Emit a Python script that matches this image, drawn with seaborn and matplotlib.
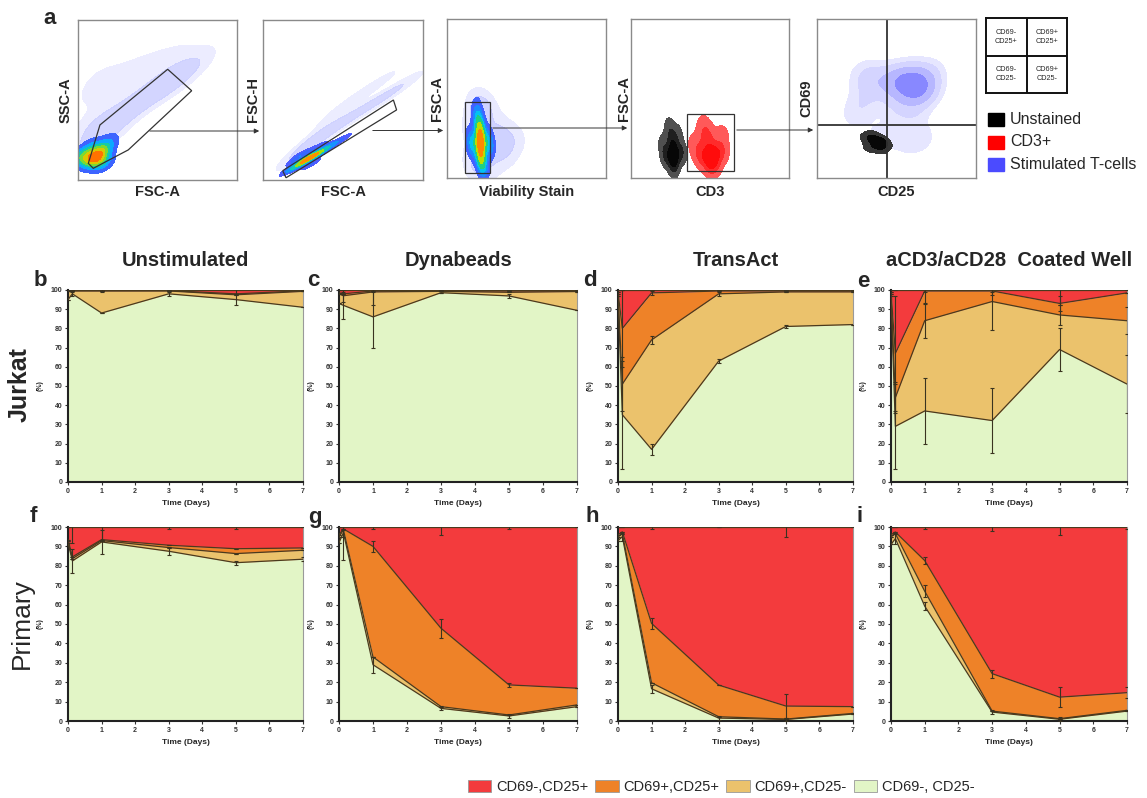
import numpy as np
import matplotlib
matplotlib.use("Agg")
import matplotlib.pyplot as plt
import seaborn as sns
from matplotlib.patches import Polygon, Rectangle, FancyArrowPatch, Patch
from matplotlib.colors import LinearSegmentedColormap
from matplotlib import font_manager

sns.set_theme(style="white")
plt.rcParams["font.family"] = ["Liberation Sans", "DejaVu Sans"]

W, H = 1147, 798

# ---------------------------------------------------------------- data
days = [0, 0.13, 1, 3, 5, 7]
population_labels = ["CD69-,CD25+", "CD69+,CD25+", "CD69+,CD25-", "CD69-, CD25-"]
conditions = ["Unstimulated", "Dynabeads", "TransAct", "aCD3/aCD28  Coated Well"]
panel_letters = ["b", "c", "d", "e", "f", "g", "h", "i"]
day_ticks = [0, 1, 2, 3, 4, 5, 6, 7]
pct_ticks = [0, 10, 20, 30, 40, 50, 60, 70, 80, 90, 100]

# population percentages: nn = CD69-CD25-, pn = CD69+CD25-, pp = CD69+CD25+, np = CD69-CD25+
jurkat_unstim_nn = [95, 98, 88, 98, 95, 91]
jurkat_unstim_pn = [4.3, 1.5, 11.5, 1.5, 2.5, 8.3]
jurkat_unstim_pp = [0.3, 0.2, 0.2, 0.2, 0.5, 0.3]
jurkat_unstim_np = [0.4, 0.3, 0.3, 0.3, 2.0, 0.4]

jurkat_dyna_nn = [93, 92, 86, 98.6, 96.9, 89.4]
jurkat_dyna_pn = [5, 5, 13, 0.7, 1.9, 9.8]
jurkat_dyna_pp = [0.5, 1, 0.5, 0.3, 0.7, 0.3]
jurkat_dyna_np = [1.5, 2, 0.5, 0.4, 0.5, 0.5]

jurkat_trans_nn = [97, 35, 17, 63, 81, 82]
jurkat_trans_pn = [1, 16, 57, 35, 18, 17]
jurkat_trans_pp = [1, 29, 24.5, 1.5, 0.5, 0.5]
jurkat_trans_np = [1, 20, 1.5, 0.5, 0.5, 0.5]

jurkat_well_nn = [97, 29, 37, 32, 69, 51]
jurkat_well_pn = [1, 15, 47, 62, 18, 33]
jurkat_well_pp = [1, 23, 15.5, 5.5, 6, 14.5]
jurkat_well_np = [1, 33, 0.5, 0.5, 7, 1.5]

primary_unstim_nn = [92, 82.5, 92.3, 87.5, 81.6, 83.4]
primary_unstim_pn = [1, 1.2, 0.7, 1.9, 4.7, 4.6]
primary_unstim_pp = [0.5, 0.9, 0.5, 1.2, 2.5, 1.2]
primary_unstim_np = [6.5, 15.4, 6.5, 9.4, 11.2, 10.8]

primary_dyna_nn = [92, 97, 29, 6.5, 2.6, 7.4]
primary_dyna_pn = [3, 1.5, 4, 0.9, 0.5, 0.9]
primary_dyna_pp = [1, 0.5, 57, 40.4, 15.5, 8.6]
primary_dyna_np = [4, 1, 10, 52.2, 81.4, 83.1]

primary_trans_nn = [93, 95, 16.6, 1.5, 0.8, 3.6]
primary_trans_pn = [2, 1.5, 3.1, 0.7, 0.2, 0.3]
primary_trans_pp = [1, 1, 30.6, 16.3, 6.7, 3.5]
primary_trans_np = [4, 2.5, 49.7, 81.5, 92.3, 92.6]

primary_well_nn = [91, 94, 59.2, 4.6, 0.9, 5.1]
primary_well_pn = [4, 2.5, 7.7, 0.5, 0.3, 0.4]
primary_well_pp = [1, 0.9, 15.8, 19.3, 11.1, 9.1]
primary_well_np = [4, 2.6, 17.3, 75.6, 87.7, 85.4]

# standard deviations (nn, pn, pp, np), drawn at the top of each stacked layer
jurkat_unstim_sd = [[0, 1, 0, 1, 3, 0], [0] * 6, [0] * 6, [0, 0, 1, 0, 2, 0]]
jurkat_dyna_sd = [[0, 7, 16, 0, 1, 0], [0, 3, 7, 0, 0, 0], [0] * 6, [0, 2, 1, 0, 0, 0]]
jurkat_trans_sd = [[0, 28, 3, 1, 1, 0], [0, 14, 2, 1, 0, 0], [0, 20, 1, 0, 0, 0], [0] * 6]
jurkat_well_sd = [[0, 22, 17, 17, 11, 15], [0, 8, 9, 15, 5, 7], [0, 30, 7, 2, 4, 0], [0, 0, 1, 1, 8, 0]]
primary_unstim_sd = [[0, 6, 6, 2, 1, 1], [0] * 6, [0] * 6, [0, 8, 7, 1, 1, 0]]
primary_dyna_sd = [[0, 14, 4, 1, 1, 0], [0] * 6, [0, 0, 3, 5, 1, 0], [0, 5, 1, 4, 1, 0]]
primary_trans_sd = [[0, 2, 2, 1, 1, 0], [0] * 6, [0, 0, 3, 0, 6, 0], [0, 0, 1, 0, 5, 0]]
primary_well_sd = [[0, 3, 2, 1, 1, 0], [0, 0, 3, 0, 0, 0], [0, 0, 2, 2, 5, 3], [0, 0, 1, 2, 4, 1]]

# flow cytometry density anchors (axis units 0-100)
scatter1_core_x = [12, 7, 17, 1, 21, 14, 9, 4, 18]
scatter1_core_y = [15, 11, 20, 14, 26, 9, 22, 17, 12]
scatter1_core_w = [5, 3, 3, 3, 1.5, 2, 2, 1.5, 1.5]
scatter1_sparse_x = [5, 10, 18, 25, 32, 40, 48, 55, 62, 70, 8, 12, 22, 35, 50, 65, 80, 4, 15]
scatter1_sparse_y = [30, 40, 30, 38, 45, 50, 55, 60, 62, 68, 55, 68, 60, 70, 75, 80, 78, 20, 22]

scatter2_core_x = [16, 22, 27, 32, 38, 45, 52, 24, 30, 20, 35]
scatter2_core_y = [6, 9, 13, 15, 19, 23, 27, 16, 10, 12, 21]
scatter2_core_w = [1, 2, 4, 3, 2, 1, 0.6, 1.2, 1.2, 1, 1]
scatter2_sparse_x = [22, 30, 40, 50, 60, 70, 80, 90, 45, 60, 75, 35, 25]
scatter2_sparse_y = [14, 22, 30, 36, 43, 48, 55, 60, 42, 53, 62, 30, 20]

scatter3_core_x = [21, 15, 27, 21, 21, 18, 24, 20]
scatter3_core_y = [22, 22, 22, 10, 33, 40, 6, 46]
scatter3_core_w = [4, 2, 2, 2, 2, 1, 1, 0.5]
scatter3_sparse_x = [15, 20, 26, 30, 35, 38, 20, 18, 28, 14, 45]
scatter3_sparse_y = [10, 40, 45, 22, 30, 15, 5, 48, 8, 30, 25]

scatter4_black_x = [27, 22, 32, 27, 26, 24, 30, 20]
scatter4_black_y = [15, 14, 16, 7, 25, 33, 28, 22]
scatter4_black_w = [4, 2, 2, 2, 2, 1, 1, 1]
scatter4_red_x = [51, 44, 57, 51, 48, 46, 58, 40]
scatter4_red_y = [14, 14, 17, 7, 26, 34, 28, 22]
scatter4_red_w = [4, 2, 2, 2, 2, 1, 1, 1]

scatter5_blue_x = [60, 66, 55, 45, 35, 30, 25, 50, 60, 65, 40, 30, 55, 70]
scatter5_blue_y = [58, 55, 62, 60, 62, 50, 40, 45, 40, 25, 25, 65, 20, 65]
scatter5_blue_w = [4, 3, 3, 2, 1, 1, 1, 1, 1, 1, 1, 1, 0.5, 1.5]
scatter5_black_x = [33, 37, 41, 35, 40, 31, 43]
scatter5_black_y = [19, 22, 24, 27, 18, 25, 21]

# ---------------------------------------------------------------- style
C_RED, C_ORANGE, C_LORANGE, C_GREEN = "#F33B3D", "#EE8228", "#EBC26C", "#E2F5C6"
LINE = "#4a3a1e"

narrow_names = {f.name for f in font_manager.fontManager.ttflist}
HAS_NARROW = "Liberation Sans Narrow" in narrow_names
LEG_FAMILY = ["Liberation Sans Narrow", "Liberation Sans"] if HAS_NARROW else ["Liberation Sans"]
LEG_SIZE = 12.5 if HAS_NARROW else 10.5

fig = plt.figure(figsize=(W / 100, H / 100), dpi=100)


def px_axes(x0, y0, x1, y1):
    return fig.add_axes([x0 / W, 1 - y1 / H, (x1 - x0) / W, (y1 - y0) / H])


def ftext(x, y, s, **kw):
    fig.text(x / W, 1 - y / H, s, **kw)


def farrow(x0, y0, x1, y1):
    fig.add_artist(FancyArrowPatch((x0 / W, 1 - y0 / H), (x1 / W, 1 - y1 / H),
                                   transform=fig.transFigure, arrowstyle="-|>",
                                   mutation_scale=7, lw=0.7, color="#333333"))


flow_cmap = LinearSegmentedColormap.from_list(
    "flow", ["#5a5aff", "#2a6bff", "#00c0ff", "#20d080", "#b8e000", "#ffb000", "#ff3000"])
haze_cmap = LinearSegmentedColormap.from_list("haze", ["#f2f2ff", "#d4d6ff", "#b0b4ff"])
black_cmap = LinearSegmentedColormap.from_list("blk", ["#6a6a6a", "#111111", "#000000"])
red_cmap = LinearSegmentedColormap.from_list("red", ["#ff7070", "#ff1a1a", "#ff0000"])
blue_cmap = LinearSegmentedColormap.from_list("blu", ["#ececff", "#b4b4ff", "#6e6eff"])


def blob(ax, xs, ys, cmap, bw, ws=None, levels=6, thresh=0.05, alpha=1.0):
    sns.kdeplot(x=np.asarray(xs, float), y=np.asarray(ys, float), weights=ws, fill=True,
                cmap=cmap, levels=levels, thresh=thresh, bw_adjust=bw, ax=ax,
                alpha=alpha, clip=((0, 100), (0, 100)))


def flow_axes(box, xlabel, ylabel, ylabel_x):
    ax = px_axes(*box)
    x0, y0, x1, y1 = box
    ftext((x0 + x1) / 2, 192, xlabel, ha="center", va="center", fontsize=10.5, fontweight="bold")
    ftext(ylabel_x, (y0 + y1) / 2, ylabel, ha="center", va="center", rotation=90,
          fontsize=10.5, fontweight="bold")
    return ax


def finish_flow(ax):
    ax.set_xlim(0, 100)
    ax.set_ylim(0, 100)
    ax.set_xticks([])
    ax.set_yticks([])
    ax.set_xlabel("")
    ax.set_ylabel("")
    for s in ax.spines.values():
        s.set_color("#8a8a8a")
        s.set_linewidth(1.0)


# ---------------------------------------------------------------- panel a
ftext(50, 19, "a", ha="center", va="center", fontsize=16, fontweight="bold")

ax1 = flow_axes((78, 20, 237, 180), "FSC-A", "SSC-A", 66)
blob(ax1, scatter1_sparse_x, scatter1_sparse_y, haze_cmap, 0.9, levels=3, thresh=0.2, alpha=0.75)
blob(ax1, scatter1_core_x, scatter1_core_y, flow_cmap, 1.1, ws=scatter1_core_w, levels=7, thresh=0.1)
ax1.add_patch(Polygon([(6.5, 10.4), (13.8, 34.4), (56.4, 69.2), (71.5, 55.8), (31.6, 18.8), (9.6, 7.3)],
                      closed=True, fill=False, ec="#333333", lw=0.9))
finish_flow(ax1)

ax2 = flow_axes((263, 20, 423, 180), "FSC-A", "FSC-H", 253)
blob(ax2, scatter2_sparse_x, scatter2_sparse_y, haze_cmap, 0.9, levels=3, thresh=0.2, alpha=0.75)
blob(ax2, scatter2_core_x, scatter2_core_y, flow_cmap, 0.8, ws=scatter2_core_w, levels=7, thresh=0.1)
ax2.add_patch(Polygon([(12.3, 5.8), (14.4, 1.4), (83.5, 43.8), (81.5, 50)],
                      closed=True, fill=False, ec="#333333", lw=0.9))
finish_flow(ax2)

ax3 = flow_axes((447, 19, 606, 178), "Viability Stain", "FSC-A", 437)
blob(ax3, scatter3_sparse_x, scatter3_sparse_y, haze_cmap, 0.9, levels=3, thresh=0.2, alpha=0.75)
blob(ax3, scatter3_core_x, scatter3_core_y, flow_cmap, 0.9, ws=scatter3_core_w, levels=7, thresh=0.1)
ax3.add_patch(Rectangle((11.3, 3.0), 15.7, 45, fill=False, ec="#333333", lw=0.9))
finish_flow(ax3)

ax4 = flow_axes((631, 19, 789, 178), "CD3", "FSC-A", 624)
blob(ax4, scatter4_black_x, scatter4_black_y, black_cmap, 0.9, ws=scatter4_black_w, levels=4, thresh=0.1)
blob(ax4, scatter4_red_x, scatter4_red_y, red_cmap, 0.9, ws=scatter4_red_w, levels=4, thresh=0.1)
ax4.add_patch(Rectangle((35.2, 4.6), 30, 35.7, fill=False, ec="#333333", lw=0.9))
finish_flow(ax4)

ax5 = flow_axes((817, 19, 976, 178), "CD25", "CD69", 806)
blob(ax5, scatter5_blue_x, scatter5_blue_y, blue_cmap, 0.8, ws=scatter5_blue_w, levels=5, thresh=0.1)
blob(ax5, scatter5_black_x, scatter5_black_y, black_cmap, 1.0, levels=3, thresh=0.15)
ax5.axvline(44.2, color="#333333", lw=1.3)
ax5.axhline(33.3, color="#333333", lw=1.3)
finish_flow(ax5)

farrow(147, 131, 262, 131)
farrow(370, 130.5, 446, 130.5)
farrow(490, 128, 630, 128)
farrow(734, 130, 816, 130)

# quadrant key
axq = px_axes(986, 18, 1067, 93)
axq.set_xlim(0, 2); axq.set_ylim(0, 2)
axq.set_xticks([]); axq.set_yticks([])
for s in axq.spines.values():
    s.set_color("#111111"); s.set_linewidth(1.4)
axq.axvline(1, color="#111111", lw=1.4)
axq.axhline(1, color="#111111", lw=1.4)
quad_text = {(0.5, 1.5): "CD69-\nCD25+", (1.5, 1.5): "CD69+\nCD25+",
             (0.5, 0.5): "CD69-\nCD25-", (1.5, 0.5): "CD69+\nCD25-"}
for (qx, qy), s in quad_text.items():
    axq.text(qx, qy, s, ha="center", va="center", fontsize=5.2, linespacing=1.4)

key_labels = ["Unstained", "CD3+", "Stimulated T-cells"]
key_colors = ["#000000", "#ff0000", "#4b4bff"]
for i, (lab, col) in enumerate(zip(key_labels, key_colors)):
    yc = 119.5 + i * 22.5
    fig.add_artist(Rectangle((988 / W, 1 - (yc + 6.5) / H), 16 / W, 13 / H,
                             transform=fig.transFigure, color=col))
    ftext(1010, yc, lab, ha="left", va="center", fontsize=11.5)

# ---------------------------------------------------------------- stacked area panels
panels = [
    (jurkat_unstim_nn, jurkat_unstim_pn, jurkat_unstim_pp, jurkat_unstim_np, jurkat_unstim_sd),
    (jurkat_dyna_nn, jurkat_dyna_pn, jurkat_dyna_pp, jurkat_dyna_np, jurkat_dyna_sd),
    (jurkat_trans_nn, jurkat_trans_pn, jurkat_trans_pp, jurkat_trans_np, jurkat_trans_sd),
    (jurkat_well_nn, jurkat_well_pn, jurkat_well_pp, jurkat_well_np, jurkat_well_sd),
    (primary_unstim_nn, primary_unstim_pn, primary_unstim_pp, primary_unstim_np, primary_unstim_sd),
    (primary_dyna_nn, primary_dyna_pn, primary_dyna_pp, primary_dyna_np, primary_dyna_sd),
    (primary_trans_nn, primary_trans_pn, primary_trans_pp, primary_trans_np, primary_trans_sd),
    (primary_well_nn, primary_well_pn, primary_well_pp, primary_well_np, primary_well_sd),
]
col_x = [(68, 303), (339, 577), (618, 853), (891, 1127)]
row_y = [(290, 482), (527, 721)]
letter_pos = [(40, 280), (313, 280), (590, 280), (863, 282),
              (33, 517), (315, 517), (592, 517), (860, 517)]
layer_colors = [C_GREEN, C_LORANGE, C_ORANGE, C_RED]

for k, (nn, pn, pp, npos, sd) in enumerate(panels):
    r, c = divmod(k, 4)
    x0, x1 = col_x[c]
    y0, y1 = row_y[r]
    ax = px_axes(x0, y0, x1, y1)
    t = np.asarray(days, float)
    layers = [np.asarray(v, float) for v in (nn, pn, pp, npos)]
    base = np.zeros_like(t)
    tops = []
    for lay, col in zip(layers, layer_colors):
        top = base + lay
        ax.fill_between(t, base, top, color=col, lw=0, zorder=1)
        tops.append(top)
        base = top
    for top in tops:
        sns.lineplot(x=t, y=top, ax=ax, color=LINE, lw=0.9, zorder=3, estimator=None,
                     sort=False, legend=False)
    for top, err in zip(tops, sd):
        ax.errorbar(t, top, yerr=np.asarray(err, float), fmt="none", ecolor="#3a3320",
                    elinewidth=0.8, capsize=1.6, capthick=0.8, zorder=4, clip_on=True)
    ax.set_xlim(0, 7)
    ax.set_ylim(0, 100)
    ax.set_xticks(day_ticks)
    ax.set_yticks(pct_ticks)
    ax.tick_params(axis="both", which="both", labelsize=5, length=2.5, width=0.8,
                   colors="#333333", pad=1.5, direction="out", bottom=True, left=True)
    for lab in ax.get_xticklabels() + ax.get_yticklabels():
        lab.set_fontweight("bold")
    ax.spines["left"].set_color("#222222"); ax.spines["left"].set_linewidth(1.5)
    ax.spines["bottom"].set_color("#222222"); ax.spines["bottom"].set_linewidth(1.5)
    ax.spines["right"].set_color("#9a9a9a"); ax.spines["right"].set_linewidth(0.8)
    ax.spines["top"].set_visible(False)
    ax.set_xlabel("Time (Days)", fontsize=6, fontweight="bold", labelpad=4)
    ax.set_ylabel("(%)", fontsize=5, fontweight="bold", labelpad=5)
    lx, ly = letter_pos[k]
    ftext(lx, ly, panel_letters[k], ha="center", va="center", fontsize=16, fontweight="bold")
    if r == 0:
        ftext((x0 + x1) / 2, 261, conditions[c], ha="center", va="center",
              fontsize=14.5, fontweight="bold")

ftext(20, 385, "Jurkat", ha="center", va="center", rotation=90, fontsize=18, fontweight="bold")
ftext(22, 624, "Primary", ha="center", va="center", rotation=90, fontsize=19)

# ---------------------------------------------------------------- bottom legend
handles = [Patch(facecolor=col, edgecolor="#999999", lw=0.6)
           for col in [C_RED, C_ORANGE, C_LORANGE, C_GREEN]]
fig.legend(handles, population_labels, loc="center left",
           bbox_to_anchor=(468 / W, 1 - 787 / H), ncol=4, frameon=False,
           prop={"family": LEG_FAMILY, "size": LEG_SIZE},
           handlelength=1.6, handleheight=0.9, columnspacing=0.45, handletextpad=0.35,
           borderaxespad=0, borderpad=0)

fig.savefig("out.png", dpi=100)
